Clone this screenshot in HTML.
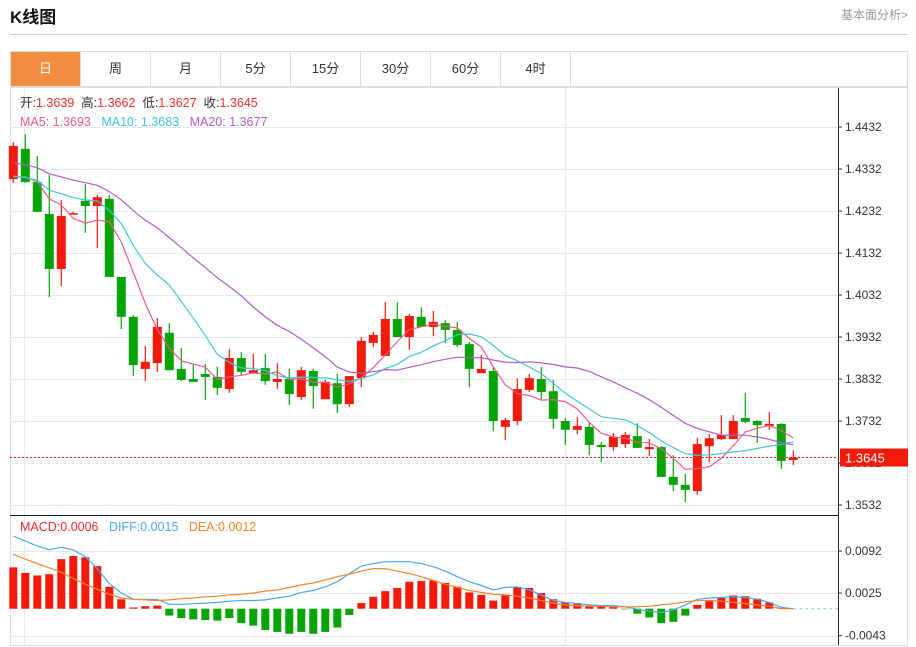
<!DOCTYPE html>
<html><head><meta charset="utf-8">
<style>
body{margin:0;background:#fff;width:916px;height:647px;overflow:hidden;font-family:"Liberation Sans","Noto Sans CJK SC",sans-serif;}
#title{position:absolute;left:10px;top:3px;font-size:17px;font-weight:bold;color:#111;}
#fa{position:absolute;right:8px;top:6px;font-size:12px;color:#999;}
#hr{position:absolute;left:10px;top:34px;width:898px;height:1px;background:#ccc;}
#tabs{position:absolute;left:10px;top:51px;width:898px;height:36px;border:1px solid #ddd;box-sizing:border-box;display:flex;}
.tab{width:70px;height:34px;line-height:34px;text-align:center;font-size:13px;color:#333;border-right:1px solid #ddd;box-sizing:border-box;}
.tab.on{background:#f28c3e;color:#fff;}
svg{position:absolute;left:0;top:0;}
</style></head><body>
<div id="title">K线图</div>
<div id="fa">基本面分析&gt;</div>
<div id="hr"></div>
<div id="tabs">
<div class="tab on">日</div>
<div class="tab">周</div>
<div class="tab">月</div>
<div class="tab">5分</div>
<div class="tab">15分</div>
<div class="tab">30分</div>
<div class="tab">60分</div>
<div class="tab">4时</div>
</div>
<svg id="chart" width="916" height="647"></svg>
<script>
const prevCloses=[1.4390,1.4372,1.4385,1.4368,1.4380,1.4366,1.4388,1.4375,1.4370,1.4386,1.4330,1.4310,1.4322,1.4305,1.4318,1.4300,1.4290,1.4298,1.4292];
const opens=[1.4308,1.4380,1.4301,1.4225,1.4094,1.4225,1.4256,1.4244,1.4261,1.4075,1.3980,1.3856,1.3870,1.3942,1.3856,1.3832,1.3844,1.3837,1.3808,1.3882,1.3846,1.3858,1.3825,1.3832,1.3789,1.3851,1.3784,1.3822,1.3772,1.3834,1.3918,1.3887,1.3975,1.3932,1.3980,1.3956,1.3965,1.3949,1.3915,1.3846,1.3851,1.3718,1.3732,1.3806,1.3832,1.3803,1.3732,1.3711,1.3718,1.3675,1.3670,1.3677,1.3696,1.3665,1.3670,1.3599,1.3580,1.3565,1.3672,1.3689,1.3689,1.3739,1.3732,1.3720,1.3725,1.3639];
const closes=[1.4387,1.4301,1.4230,1.4094,1.4220,1.4227,1.4244,1.4265,1.4075,1.3980,1.3865,1.3873,1.3956,1.3853,1.3830,1.3825,1.3837,1.3811,1.3882,1.3849,1.3853,1.3827,1.3832,1.3796,1.3853,1.3815,1.3825,1.3772,1.3839,1.3923,1.3937,1.3975,1.3932,1.3982,1.3956,1.3968,1.3949,1.3913,1.3856,1.3856,1.3732,1.3734,1.3808,1.3834,1.3801,1.3737,1.3711,1.3720,1.3675,1.3670,1.3694,1.3699,1.3668,1.3670,1.3599,1.3580,1.3568,1.3677,1.3691,1.3699,1.3732,1.3730,1.3722,1.3725,1.3637,1.3645];
const highs=[1.4396,1.4415,1.4363,1.4318,1.4258,1.4230,1.4296,1.4270,1.4270,1.4075,1.3984,1.3911,1.3977,1.3965,1.3906,1.3868,1.3868,1.3861,1.3903,1.3896,1.3892,1.3892,1.3870,1.3856,1.3861,1.3856,1.3830,1.3844,1.3839,1.3932,1.3944,1.4015,1.4015,1.3987,1.4003,1.3994,1.3972,1.3968,1.3920,1.3889,1.3861,1.3739,1.3834,1.3844,1.3861,1.3830,1.3739,1.3741,1.3730,1.3682,1.3703,1.3706,1.3727,1.3689,1.3672,1.3651,1.3606,1.3691,1.3701,1.3746,1.3746,1.3799,1.3734,1.3753,1.3727,1.3662];
const lows=[1.4299,1.4299,1.4230,1.4027,1.4053,1.4223,1.4180,1.4144,1.4075,1.3951,1.3839,1.3827,1.3849,1.3853,1.3827,1.3825,1.3782,1.3794,1.3799,1.3839,1.3846,1.3818,1.3808,1.3770,1.3782,1.3761,1.3784,1.3751,1.3765,1.3813,1.3908,1.3887,1.3932,1.3901,1.3956,1.3934,1.3918,1.3908,1.3813,1.3846,1.3708,1.3687,1.3722,1.3801,1.3784,1.3713,1.3675,1.3701,1.3651,1.3634,1.3661,1.3668,1.3668,1.3649,1.3599,1.3565,1.3539,1.3556,1.3634,1.3687,1.3689,1.3727,1.3680,1.3711,1.3618,1.3627];
const macdVals=[0.0066,0.0057,0.0053,0.0055,0.0079,0.0084,0.0082,0.0068,0.0035,0.0015,0.0002,0.0004,0.0005,-0.0011,-0.0015,-0.0017,-0.0018,-0.0019,-0.0015,-0.0023,-0.0027,-0.0034,-0.0037,-0.0040,-0.0037,-0.0040,-0.0037,-0.0030,-0.0010,0.0009,0.0019,0.0028,0.0033,0.0043,0.0044,0.0045,0.0041,0.0035,0.0026,0.0022,0.0013,0.0022,0.0034,0.0033,0.0025,0.0015,0.0010,0.0009,0.0005,0.0004,0.0003,-0.0001,-0.0008,-0.0014,-0.0023,-0.0021,-0.0011,0.0006,0.0012,0.0017,0.0021,0.0020,0.0016,0.0010,0.0001,0.0000];
const diffVals=[0.0116,0.0108,0.0100,0.0094,0.0098,0.0094,0.0083,0.0064,0.0040,0.0025,0.0015,0.0015,0.0015,0.0007,0.0007,0.0008,0.0009,0.0010,0.0012,0.0013,0.0013,0.0014,0.0017,0.0020,0.0026,0.0029,0.0035,0.0043,0.0056,0.0068,0.0072,0.0075,0.0075,0.0075,0.0072,0.0067,0.0060,0.0051,0.0043,0.0037,0.0030,0.0034,0.0035,0.0030,0.0022,0.0013,0.0010,0.0008,0.0006,0.0005,0.0005,0.0003,-0.0001,-0.0004,-0.0006,-0.0002,0.0006,0.0015,0.0017,0.0018,0.0019,0.0018,0.0015,0.0010,0.0002,0.0000];
const deaVals=[0.0087,0.0079,0.0072,0.0065,0.0058,0.0048,0.0039,0.0031,0.0023,0.0017,0.0015,0.0014,0.0013,0.0014,0.0016,0.0017,0.0019,0.0020,0.0022,0.0023,0.0025,0.0028,0.0030,0.0034,0.0038,0.0041,0.0046,0.0051,0.0055,0.0060,0.0064,0.0064,0.0060,0.0056,0.0051,0.0045,0.0039,0.0034,0.0029,0.0026,0.0023,0.0022,0.0020,0.0017,0.0013,0.0009,0.0006,0.0005,0.0004,0.0004,0.0003,0.0003,0.0003,0.0004,0.0006,0.0008,0.0011,0.0013,0.0013,0.0012,0.0010,0.0008,0.0006,0.0004,0.0000,0.0000];
const priceTicks=[1.4432,1.4332,1.4232,1.4132,1.4032,1.3932,1.3832,1.3732,1.3632,1.3532];
const macdTicks=[0.0092,0.0025,-0.0043];

const svg=document.getElementById('chart');
const NS='http://www.w3.org/2000/svg';
function mk(tag,attrs,parent){const e=document.createElementNS(NS,tag);for(const k in attrs)e.setAttribute(k,attrs[k]);(parent||svg).appendChild(e);return e;}
const X=i=>13.3+12*i;
const Y=p=>127+(1.4432-p)*4200;
const MY=v=>608.7-v*6270;
const RED='#f21a0a',GREEN='#06a406';

let e=mk('rect',{x:10.5,y:87.5,width:897,height:558,fill:'none',stroke:'#ddd'});


const grid=mk('g',{stroke:'#e3ebf1','stroke-width':1});


priceTicks.forEach(t=>mk('line',{x1:10,x2:838,y1:Math.round(Y(t))+0.5,y2:Math.round(Y(t))+0.5},grid));
macdTicks.forEach(t=>mk('line',{x1:10,x2:838,y1:Math.round(MY(t))+0.5,y2:Math.round(MY(t))+0.5},grid));
[24.5,565.5].forEach(x=>mk('line',{x1:x,x2:x,y1:88,y2:645},grid));
e=mk('line',{x1:838.5,x2:838.5,y1:88,y2:645,stroke:'#222'});


e=mk('line',{x1:10,x2:838,y1:515.5,y2:515.5,stroke:'#222'});


const axg=mk('g',{'font-size':12,fill:'#333','font-family':'Liberation Sans, sans-serif'});


priceTicks.forEach(t=>{const y=Y(t);mk('line',{x1:838,x2:842,y1:y,y2:y,stroke:'#333'},axg);const tx=mk('text',{x:845,y:y+4},axg);tx.textContent=t.toFixed(4);});
const maxg=mk('g',{'font-size':12,fill:'#333','font-family':'Liberation Sans, sans-serif'});


macdTicks.forEach(t=>{const y=MY(t);mk('line',{x1:838,x2:842,y1:y,y2:y,stroke:'#333'},maxg);const tx=mk('text',{x:845,y:y+4},maxg);tx.textContent=t.toFixed(4);});

const cg=mk('g',{});


closes.forEach((c,i)=>{
  const o=opens[i],col=c>=o?RED:GREEN,x=X(i);
  const g=mk('g',{},cg);
  
  
  mk('line',{x1:x,x2:x,y1:Y(highs[i]),y2:Y(lows[i]),stroke:col,'stroke-width':1.2},g);
  const t=Y(Math.max(o,c)),b=Y(Math.min(o,c));
  mk('rect',{x:x-4.5,y:t,width:9,height:Math.max(1.5,b-t),fill:col},g);
});
const allC=prevCloses.concat(closes);
function ma(n){return closes.map((_,i)=>{const j=i+prevCloses.length;let s=0;for(let k=j-n+1;k<=j;k++)s+=allC[k];return s/n;});}
[[5,'#ef5b8e','ma5-line'],[10,'#3fc7dc','ma10-line'],[20,'#b35dc9','ma20-line']].forEach(([n,col,name])=>{
  const pts=ma(n).map((v,i)=>X(i).toFixed(1)+','+Y(v).toFixed(1)).join(' ');
  const l=mk('polyline',{points:pts,fill:'none',stroke:col,'stroke-width':1.2});
  
  
});
const last=closes[closes.length-1];
e=mk('line',{x1:10,x2:838,y1:Y(last),y2:Y(last),stroke:'#e22','stroke-dasharray':'2,2'});


const pb=mk('g',{});


mk('rect',{x:840,y:Y(last)-9,width:68,height:18,fill:'#f21a0a'},pb);
const pt=mk('text',{x:845,y:Y(last)+5,fill:'#fff','font-size':13,'font-family':'Liberation Sans, sans-serif'},pb);
pt.textContent=last.toFixed(4);

const mg=mk('g',{});


macdVals.forEach((v,i)=>{
  const y0=MY(0),y1=MY(v);
  const r=mk('rect',{x:X(i)-4,y:Math.min(y0,y1),width:8,height:Math.abs(y1-y0),fill:v>=0?RED:GREEN},mg);
  
  
});
e=mk('line',{x1:X(macdVals.length-1),x2:838,y1:MY(0),y2:MY(0),stroke:'#8cc8e8','stroke-dasharray':'3,3'});


[[diffVals,'#4ea6ef','diff-line'],[deaVals,'#f5842a','dea-line']].forEach(([arr,col,name])=>{
  const pts=arr.map((v,i)=>X(i).toFixed(1)+','+MY(v).toFixed(1)).join(' ');
  const l=mk('polyline',{points:pts,fill:'none',stroke:col,'stroke-width':1.2});
  
  
});

function legend(y,items,name){
  const t=mk('text',{x:20,y:y,'font-size':12.5,'font-family':'Liberation Sans, Noto Sans CJK SC, sans-serif'});
  
  
  t.style.whiteSpace='pre';
  items.forEach(([s,col])=>{const ts=mk('tspan',{fill:col},t);ts.textContent=s;});
}
legend(107,[['开:','#333'],['1.3639  ','#f0302a'],['高:','#333'],['1.3662  ','#f0302a'],['低:','#333'],['1.3627  ','#f0302a'],['收:','#333'],['1.3645','#f0302a']],'ohlc-legend');
legend(126,[['MA5: 1.3693   ','#ef5b8e'],['MA10: 1.3683   ','#3fc7dc'],['MA20: 1.3677','#b35dc9']],'ma-legend');
legend(531,[['MACD:0.0006   ','#f0302a'],['DIFF:0.0015   ','#4ea6ef'],['DEA:0.0012','#f5842a']],'macd-legend');
</script>
</body></html>
